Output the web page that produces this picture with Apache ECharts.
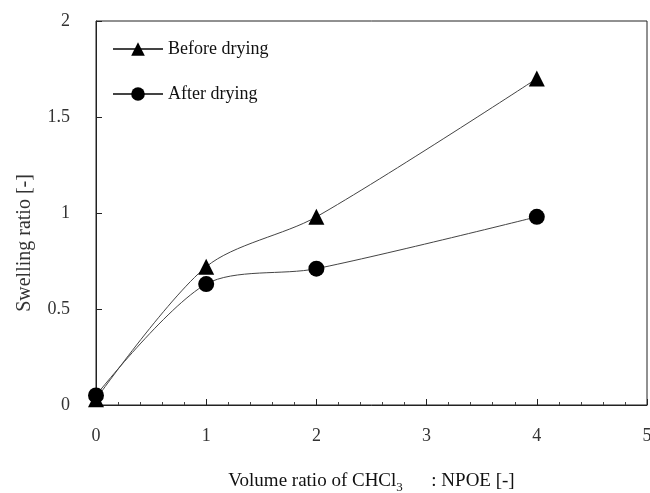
<!DOCTYPE html>
<html>
<head>
<meta charset="utf-8">
<script src="https://cdn.jsdelivr.net/npm/echarts@6/dist/echarts.min.js"></script>
<style>
  html, body { margin: 0; padding: 0; background: #fff; }
  #chart { width: 650px; height: 493px; }
</style>
</head>
<body>
<div id="chart"></div>
<script>
var xValues = [0, 1, 2, 4];
var beforeDrying = [0.03, 0.72, 0.98, 1.70];
var afterDrying = [0.05, 0.63, 0.71, 0.98];
var seriesNames = ['Before drying', 'After drying'];

var toPairs = function (ys) {
	return xValues.map(function (x, i) { return [x, ys[i]]; });
};

var font = 'Liberation Serif';
var myChart = echarts.init(document.getElementById('chart'));
var option = {
	backgroundColor: '#fff',
	animation: false,
	grid: {
		left: 96,
		top: 21,
		right: 3,
		bottom: 88,
		outerBoundsMode: 'none',
		show: true,
		borderColor: '#222',
		borderWidth: 1
	},
	legend: {
		orient: 'vertical',
		left: 107,
		top: 35,
		itemGap: 27,
		itemWidth: 50,
		itemHeight: 17,
		data: seriesNames,
		textStyle: { fontFamily: font, fontSize: 18, color: '#111' }
	},
	xAxis: {
		type: 'value',
		min: 0,
		max: 5,
		interval: 1,
		name: 'Volume ratio of CHCl{sub|3}      : NPOE [-]',
		nameLocation: 'middle',
		nameGap: 64,
		nameTextStyle: {
			fontFamily: font, fontSize: 19, color: '#111',
			rich: { sub: { fontFamily: font, fontSize: 13, color: '#111', padding: [12, 0, 0, 0] } }
		},
		axisLine: { lineStyle: { color: '#222', width: 1 } },
		axisTick: { inside: true, length: 6, lineStyle: { color: '#222' } },
		minorTick: { show: true, splitNumber: 5, length: 3, lineStyle: { color: '#444' } },
		splitLine: { show: false },
		axisLabel: { margin: 22, fontFamily: font, fontSize: 18, color: '#333' }
	},
	yAxis: {
		type: 'value',
		min: 0,
		max: 2,
		interval: 0.5,
		axisLine: { show: true, lineStyle: { color: '#222', width: 1 } },
		axisTick: { show: true, inside: true, length: 6, lineStyle: { color: '#222' } },
		splitLine: { show: false },
		axisLabel: { margin: 26, fontFamily: font, fontSize: 18, color: '#333' }
	},
	graphic: [{
		type: 'text',
		x: 25,
		y: 243,
		rotation: Math.PI / 2,
		style: {
			text: 'Swelling ratio [-]',
			fontFamily: font,
			fontSize: 20,
			fill: '#333',
			align: 'center',
			verticalAlign: 'middle'
		}
	}],
	series: [
		{
			name: seriesNames[0],
			type: 'line',
			data: toPairs(beforeDrying),
			smooth: 0.3,
			symbol: 'triangle',
			symbolSize: 16,
			itemStyle: { color: '#000' },
			lineStyle: { color: '#444', width: 1 }
		},
		{
			name: seriesNames[1],
			type: 'line',
			data: toPairs(afterDrying),
			smooth: 0.3,
			symbol: 'circle',
			symbolSize: 16,
			itemStyle: { color: '#000' },
			lineStyle: { color: '#444', width: 1 }
		}
	]
};
myChart.setOption(option);
</script>
</body>
</html>
